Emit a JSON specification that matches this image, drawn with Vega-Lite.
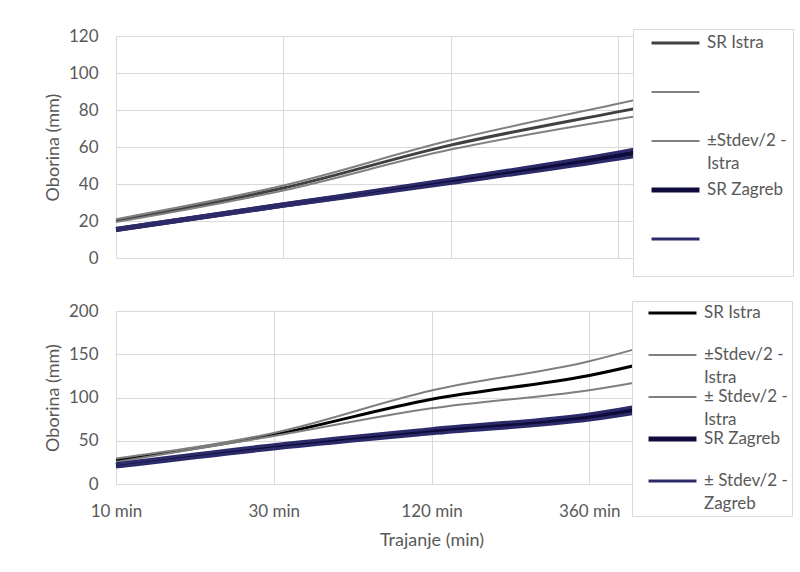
{
  "$schema": "https://vega.github.io/schema/vega-lite/v6.json",
  "background": "white",
  "padding": {"left": 44, "top": 27, "right": 0, "bottom": 0},
  "bounds": "flush",
  "spacing": 53,
  "config": {
    "view": {"stroke": null},
    "font": "Lato",
    "axis": {
      "labelFont": "Lato", "labelFontSize": 17, "labelColor": "#595959",
      "titleFont": "Lato", "titleFontSize": 18, "titleColor": "#595959", "titleFontWeight": "normal",
      "gridColor": "#d9d9d9", "gridWidth": 1, "domain": false, "ticks": false
    },
    "legend": {
      "labelFont": "Lato", "labelFontSize": 17, "labelColor": "#595959"
    }
  },
  "resolve": {
    "scale": {"color": "independent", "strokeWidth": "independent", "y": "independent", "x": "independent"},
    "legend": {"color": "independent", "strokeWidth": "independent"}
  },
  "vconcat": [
    {
      "width": 669,
      "height": 222,
      "data": {"values": [
        {"trajanje": "10 min", "oborina": 20.2, "serija": "a"},
        {"trajanje": "30 min", "oborina": 37.8, "serija": "a"},
        {"trajanje": "120 min", "oborina": 61.0, "serija": "a"},
        {"trajanje": "360 min", "oborina": 79.0, "serija": "a"},
        {"trajanje": "1440 min", "oborina": 96, "serija": "a"},
        {"trajanje": "10 min", "oborina": 21.0, "serija": "b"},
        {"trajanje": "30 min", "oborina": 39.2, "serija": "b"},
        {"trajanje": "120 min", "oborina": 63.6, "serija": "b"},
        {"trajanje": "360 min", "oborina": 83.4, "serija": "b"},
        {"trajanje": "1440 min", "oborina": 103, "serija": "b"},
        {"trajanje": "10 min", "oborina": 19.4, "serija": "c"},
        {"trajanje": "30 min", "oborina": 36.5, "serija": "c"},
        {"trajanje": "120 min", "oborina": 58.6, "serija": "c"},
        {"trajanje": "360 min", "oborina": 75.0, "serija": "c"},
        {"trajanje": "1440 min", "oborina": 89, "serija": "c"},
        {"trajanje": "10 min", "oborina": 15.4, "serija": "d"},
        {"trajanje": "30 min", "oborina": 28.6, "serija": "d"},
        {"trajanje": "120 min", "oborina": 41.5, "serija": "d"},
        {"trajanje": "360 min", "oborina": 55.3, "serija": "d"},
        {"trajanje": "1440 min", "oborina": 72, "serija": "d"},
        {"trajanje": "10 min", "oborina": 15.9, "serija": "e"},
        {"trajanje": "30 min", "oborina": 29.3, "serija": "e"},
        {"trajanje": "120 min", "oborina": 42.7, "serija": "e"},
        {"trajanje": "360 min", "oborina": 57.2, "serija": "e"},
        {"trajanje": "1440 min", "oborina": 75, "serija": "e"},
        {"trajanje": "10 min", "oborina": 14.9, "serija": "f"},
        {"trajanje": "30 min", "oborina": 27.9, "serija": "f"},
        {"trajanje": "120 min", "oborina": 40.3, "serija": "f"},
        {"trajanje": "360 min", "oborina": 53.4, "serija": "f"},
        {"trajanje": "1440 min", "oborina": 69, "serija": "f"}
      ]},
      "mark": {"type": "line", "interpolate": "monotone"},
      "encoding": {
        "x": {
          "field": "trajanje", "type": "ordinal",
          "sort": ["10 min", "30 min", "120 min", "360 min", "1440 min"],
          "scale": {"type": "point", "padding": 0},
          "axis": {"labels": false, "title": null, "grid": true}
        },
        "y": {
          "field": "oborina", "type": "quantitative",
          "scale": {"domain": [0, 120], "nice": false},
          "axis": {"values": [0, 20, 40, 60, 80, 100, 120], "title": "Oborina (mm)", "labelPadding": 18, "titlePadding": 6}
        },
        "color": {
          "field": "serija", "type": "nominal",
          "scale": {"domain": ["a", "b", "c", "d", "e", "f"], "range": ["#404040", "#808080", "#808080", "#0f0c3d", "#2c2a69", "#2c2a69"]},
          "legend": {
            "orient": "none", "legendX": 517, "legendY": -7, "direction": "vertical",
            "title": null, "values": ["a", "b", "c", "d", "e"],
            "symbolType": "stroke", "symbolSize": 2300, "symbolOffset": 10, "labelOffset": 5,
            "clipHeight": 16,
            "fillColor": "white", "strokeColor": "#d9d9d9", "padding": 6, "rowPadding": 9,
            "labelBaseline": "middle",
            "labelExpr": "datum.value == 'a' ? ['SR Istra', ' '] : datum.value == 'c' ? ['±Stdev/2 -', 'Istra'] : datum.value == 'd' ? ['SR Zagreb', ' '] : [' ', ' ']",
            "encode": {"labels": {"update": {"lineHeight": {"value": 23}}}}
          }
        },
        "strokeWidth": {
          "field": "serija", "type": "nominal",
          "scale": {"type": "ordinal", "domain": ["a", "b", "c", "d", "e", "f"], "range": [3, 2, 2, 5, 3, 3]},
          "legend": {
            "orient": "none", "legendX": 517, "legendY": -7, "direction": "vertical",
            "title": null, "values": ["a", "b", "c", "d", "e"],
            "symbolType": "stroke", "symbolSize": 2300, "symbolOffset": 10, "labelOffset": 5,
            "clipHeight": 16,
            "fillColor": "white", "strokeColor": "#d9d9d9", "padding": 6, "rowPadding": 9,
            "labelBaseline": "middle",
            "labelExpr": "datum.value == 'a' ? ['SR Istra', ' '] : datum.value == 'c' ? ['±Stdev/2 -', 'Istra'] : datum.value == 'd' ? ['SR Zagreb', ' '] : [' ', ' ']",
            "encode": {"labels": {"update": {"lineHeight": {"value": 23}}}}
          }
        }
      }
    },
    {
      "width": 631,
      "height": 173,
      "data": {"values": [
        {"trajanje": "10 min", "oborina": 27.5, "serija": "a"},
        {"trajanje": "30 min", "oborina": 57, "serija": "a"},
        {"trajanje": "120 min", "oborina": 98, "serija": "a"},
        {"trajanje": "360 min", "oborina": 125.5, "serija": "a"},
        {"trajanje": "1440 min", "oborina": 170, "serija": "a"},
        {"trajanje": "10 min", "oborina": 29.5, "serija": "b"},
        {"trajanje": "30 min", "oborina": 59, "serija": "b"},
        {"trajanje": "120 min", "oborina": 108, "serija": "b"},
        {"trajanje": "360 min", "oborina": 142, "serija": "b"},
        {"trajanje": "1440 min", "oborina": 195, "serija": "b"},
        {"trajanje": "10 min", "oborina": 25.5, "serija": "c"},
        {"trajanje": "30 min", "oborina": 55.5, "serija": "c"},
        {"trajanje": "120 min", "oborina": 87.5, "serija": "c"},
        {"trajanje": "360 min", "oborina": 108.5, "serija": "c"},
        {"trajanje": "1440 min", "oborina": 142, "serija": "c"},
        {"trajanje": "10 min", "oborina": 21.5, "serija": "d"},
        {"trajanje": "30 min", "oborina": 43, "serija": "d"},
        {"trajanje": "120 min", "oborina": 61, "serija": "d"},
        {"trajanje": "360 min", "oborina": 77.5, "serija": "d"},
        {"trajanje": "1440 min", "oborina": 110, "serija": "d"},
        {"trajanje": "10 min", "oborina": 23.5, "serija": "e"},
        {"trajanje": "30 min", "oborina": 45.5, "serija": "e"},
        {"trajanje": "120 min", "oborina": 64, "serija": "e"},
        {"trajanje": "360 min", "oborina": 81, "serija": "e"},
        {"trajanje": "1440 min", "oborina": 115, "serija": "e"},
        {"trajanje": "10 min", "oborina": 19.5, "serija": "f"},
        {"trajanje": "30 min", "oborina": 40.5, "serija": "f"},
        {"trajanje": "120 min", "oborina": 58, "serija": "f"},
        {"trajanje": "360 min", "oborina": 74, "serija": "f"},
        {"trajanje": "1440 min", "oborina": 105, "serija": "f"}
      ]},
      "mark": {"type": "line", "interpolate": "monotone"},
      "encoding": {
        "x": {
          "field": "trajanje", "type": "ordinal",
          "sort": ["10 min", "30 min", "120 min", "360 min", "1440 min"],
          "scale": {"type": "point", "padding": 0},
          "axis": {"labelAngle": 0, "labelPadding": 19, "title": "Trajanje (min)", "titlePadding": 12, "grid": true}
        },
        "y": {
          "field": "oborina", "type": "quantitative",
          "scale": {"domain": [0, 200], "nice": false},
          "axis": {"values": [0, 50, 100, 150, 200], "title": "Oborina (mm)", "labelPadding": 18, "titlePadding": 6}
        },
        "color": {
          "field": "serija", "type": "nominal",
          "scale": {"domain": ["a", "b", "c", "d", "e", "f"], "range": ["#000000", "#7f7f7f", "#7f7f7f", "#0f0c3d", "#2c2a69", "#2c2a69"]},
          "legend": {
            "orient": "none", "legendX": 516, "legendY": -10, "direction": "vertical",
            "title": null, "values": ["a", "b", "c", "d", "e"],
            "symbolType": "stroke", "symbolSize": 2300, "symbolOffset": 10, "labelOffset": 5,
            "clipHeight": 16,
            "fillColor": "white", "strokeColor": "#d9d9d9", "padding": 4, "rowPadding": 2,
            "labelBaseline": "middle",
            "labelExpr": "datum.value == 'a' ? ['SR Istra', ' '] : datum.value == 'b' ? ['±Stdev/2 -', 'Istra'] : datum.value == 'c' ? ['± Stdev/2 -', 'Istra'] : datum.value == 'd' ? ['SR Zagreb', ' '] : ['± Stdev/2 -', 'Zagreb']",
            "encode": {"labels": {"update": {"lineHeight": {"value": 23}}}}
          }
        },
        "strokeWidth": {
          "field": "serija", "type": "nominal",
          "scale": {"type": "ordinal", "domain": ["a", "b", "c", "d", "e", "f"], "range": [3, 2, 2, 5, 3, 3]},
          "legend": {
            "orient": "none", "legendX": 516, "legendY": -10, "direction": "vertical",
            "title": null, "values": ["a", "b", "c", "d", "e"],
            "symbolType": "stroke", "symbolSize": 2300, "symbolOffset": 10, "labelOffset": 5,
            "clipHeight": 16,
            "fillColor": "white", "strokeColor": "#d9d9d9", "padding": 4, "rowPadding": 2,
            "labelBaseline": "middle",
            "labelExpr": "datum.value == 'a' ? ['SR Istra', ' '] : datum.value == 'b' ? ['±Stdev/2 -', 'Istra'] : datum.value == 'c' ? ['± Stdev/2 -', 'Istra'] : datum.value == 'd' ? ['SR Zagreb', ' '] : ['± Stdev/2 -', 'Zagreb']",
            "encode": {"labels": {"update": {"lineHeight": {"value": 23}}}}
          }
        }
      }
    }
  ]
}
